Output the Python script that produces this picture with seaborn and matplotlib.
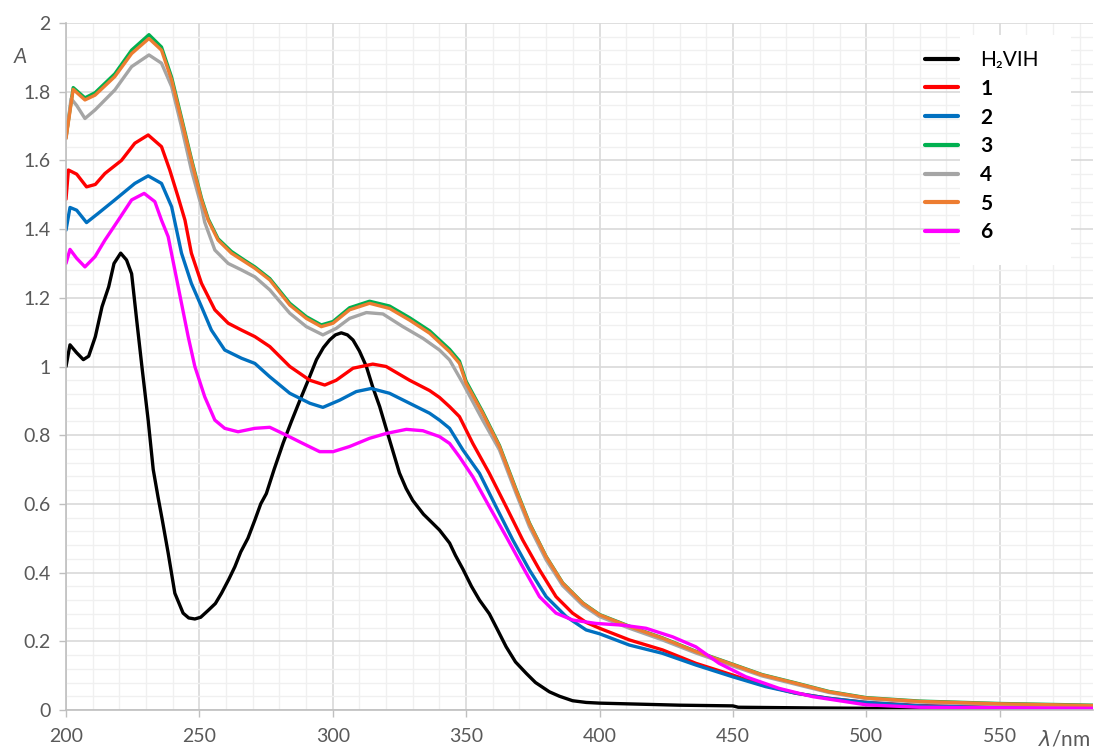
import numpy as np
import pandas as pd
import matplotlib
matplotlib.use("Agg")
import matplotlib.pyplot as plt
import seaborn as sns
from matplotlib.ticker import MultipleLocator, FuncFormatter
from matplotlib.patches import Rectangle

# ---------------- data ----------------
labels = ["H\u2082VIH", "1", "2", "3", "4", "5", "6"]
colors = ["#000000", "#FF0000", "#0070C0", "#00B050", "#A5A5A5", "#ED7D31", "#FF00FF"]

wl_h2vih = [200, 201.5, 204, 206.5, 208.5, 211, 213.5, 216, 218, 220.5, 222.7, 224.6, 226.5, 228.6,
            230.8, 232.7, 234.5, 236.1, 238.3, 240.8, 243.9, 246, 248.3, 250.5, 253.3, 256, 258.3,
            261, 263.3, 265.5, 268.2, 270.8, 273, 275.1, 278, 281.4, 284.5, 287.6, 290.8, 293.9,
            296.5, 298.8, 301, 303.2, 305.5, 307.6, 310, 312.6, 315, 317.6, 321.3, 325, 327.5, 330,
            334, 337.4, 340, 343.8, 346, 348.8, 352, 355, 358.7, 362, 365, 368.5, 372.5, 376, 381.2,
            385, 389.9, 395, 400, 415, 430, 450, 452, 480, 500, 540, 585]
a_h2vih = [1.00, 1.063, 1.04, 1.02, 1.03, 1.087, 1.174, 1.232, 1.30, 1.33, 1.31, 1.27, 1.135, 0.99,
           0.844, 0.70, 0.62, 0.553, 0.457, 0.34, 0.282, 0.268, 0.265, 0.27, 0.29, 0.31, 0.34,
           0.38, 0.417, 0.46, 0.50, 0.553, 0.60, 0.63, 0.70, 0.777, 0.84, 0.90, 0.96, 1.02,
           1.055, 1.077, 1.092, 1.098, 1.092, 1.077, 1.045, 1.00, 0.94, 0.883, 0.786, 0.69, 0.645, 0.61,
           0.57, 0.544, 0.524, 0.486, 0.45, 0.41, 0.36, 0.32, 0.28, 0.23, 0.184, 0.14, 0.107, 0.08, 0.053,
           0.04, 0.027, 0.022, 0.02, 0.017, 0.014, 0.012, 0.008, 0.006, 0.005, 0.004, 0.003]

wl_1 = [200, 200.9, 204, 207.7, 211, 214.6, 220.8, 225.8, 230.8, 235.8, 238.9, 242, 244.6, 247,
        250.8, 255.8, 260.8, 265.8, 270.8, 276.4, 283.9, 291.4, 297, 301.3, 307.6, 315, 320,
        328.8, 336.3, 340, 343.8, 347.5, 352.5, 358.7, 365, 371.2, 377.5, 383.7, 389.9, 395,
        400, 411.2, 423.6, 436.1, 449.8, 461, 473.5, 486, 500, 520, 550, 585]
a_1 = [1.487, 1.572, 1.56, 1.523, 1.53, 1.562, 1.60, 1.65, 1.674, 1.64, 1.572, 1.494, 1.426, 1.33,
       1.242, 1.165, 1.126, 1.106, 1.087, 1.058, 1.00, 0.96, 0.946, 0.96, 0.995, 1.007, 1.0,
       0.96, 0.93, 0.91, 0.883, 0.854, 0.776, 0.689, 0.592, 0.495, 0.408, 0.33, 0.282, 0.255,
       0.238, 0.204, 0.175, 0.136, 0.102, 0.073, 0.049, 0.034, 0.022, 0.013, 0.008, 0.006]

wl_2 = [200, 201.5, 204, 207.7, 212.1, 218.3, 225.8, 230.8, 235.8, 239.6, 243.3, 247, 250.8,
        254.5, 259.5, 265.8, 270.8, 276.4, 283.9, 291.4, 296.3, 302.6, 308.8, 314.4, 321.3,
        328.8, 336.3, 340, 343.8, 348.8, 355, 361.2, 367.5, 373.7, 380, 387.5, 395, 400, 411.2,
        423.6, 436.1, 449.8, 462.3, 473.5, 486, 500, 520, 550, 585]
a_2 = [1.397, 1.463, 1.455, 1.419, 1.446, 1.485, 1.533, 1.555, 1.533, 1.465, 1.33, 1.242, 1.174,
       1.106, 1.048, 1.024, 1.009, 0.97, 0.922, 0.893, 0.881, 0.902, 0.927, 0.936, 0.922,
       0.893, 0.864, 0.844, 0.82, 0.757, 0.689, 0.592, 0.495, 0.408, 0.33, 0.272, 0.233, 0.222, 0.189,
       0.165, 0.131, 0.097, 0.068, 0.049, 0.034, 0.022, 0.012, 0.007, 0.005]

wl_3 = [200, 202.7, 207.1, 210.9, 218.3, 224.6, 231.1, 235.8, 239.6, 243.3, 247, 250.8, 253.3,
        257, 262, 267, 270.8, 276.4, 283.9, 290.1, 295.7, 300.1, 306.3, 313.8, 321.3, 328.8,
        336.3, 343.8, 347.5, 350, 356.2, 362.5, 368.7, 373.7, 380, 386.2, 393.7, 400, 411.2,
        423.6, 436.1, 448.6, 461, 473.5, 486, 500, 520, 550, 585]
a_3 = [1.668, 1.812, 1.782, 1.797, 1.852, 1.921, 1.966, 1.93, 1.842, 1.724, 1.605, 1.49, 1.43,
       1.372, 1.335, 1.309, 1.29, 1.256, 1.184, 1.145, 1.121, 1.131, 1.171, 1.19, 1.176, 1.142,
       1.104, 1.05, 1.016, 0.957, 0.868, 0.77, 0.643, 0.545, 0.447, 0.37, 0.312, 0.278, 0.244,
       0.21, 0.171, 0.137, 0.103, 0.079, 0.054, 0.036, 0.026, 0.019, 0.014]

wl_4 = [200, 201.9, 204, 207.1, 210.9, 218.3, 224.6, 231.1, 235.8, 239.6, 243.3, 247, 250.8,
        252, 255.8, 260.8, 265.8, 270.8, 276.4, 283.9, 290.1, 296.3, 301.3, 306.3, 312.6, 318.8,
        326.3, 333.8, 340, 343.8, 348.8, 356.2, 362.5, 368.7, 373.7, 380, 386.2, 393.7, 400,
        411.2, 423.6, 436.1, 448.6, 461, 473.5, 486, 500, 520, 550, 585]
a_4 = [1.664, 1.78, 1.76, 1.722, 1.747, 1.805, 1.873, 1.907, 1.883, 1.815, 1.698, 1.572, 1.465,
       1.42, 1.339, 1.30, 1.281, 1.261, 1.223, 1.155, 1.116, 1.092, 1.111, 1.14, 1.157, 1.153,
       1.116, 1.082, 1.048, 1.019, 0.951, 0.844, 0.757, 0.631, 0.534, 0.437, 0.362, 0.305, 0.272,
       0.238, 0.204, 0.166, 0.132, 0.099, 0.075, 0.051, 0.033, 0.023, 0.016, 0.011]

wl_5 = [200, 202.7, 207.1, 210.9, 218.3, 224.6, 231.1, 235.8, 239.6, 243.3, 247, 250.8, 253.3,
        257, 262, 267, 270.8, 276.4, 283.9, 290.1, 295.7, 300.1, 306.3, 313.8, 321.3, 328.8,
        336.3, 343.8, 347.5, 350, 356.2, 362.5, 368.7, 373.7, 380, 386.2, 393.7, 400, 411.2,
        423.6, 436.1, 448.6, 461, 473.5, 486, 500, 520, 550, 585]
a_5 = [1.664, 1.807, 1.776, 1.79, 1.844, 1.911, 1.955, 1.921, 1.834, 1.718, 1.60, 1.485, 1.426,
       1.368, 1.33, 1.305, 1.286, 1.252, 1.179, 1.14, 1.116, 1.126, 1.165, 1.184, 1.169, 1.135,
       1.097, 1.043, 1.009, 0.951, 0.864, 0.767, 0.64, 0.543, 0.446, 0.369, 0.311, 0.277, 0.243,
       0.209, 0.17, 0.136, 0.102, 0.078, 0.053, 0.035, 0.025, 0.018, 0.013]

wl_6 = [200, 201.5, 204, 207.1, 210.9, 214.6, 219.6, 224.6, 229.3, 233.3, 235.8, 238.3, 240.8,
        243.3, 245.8, 248.3, 252, 255.8, 259.5, 264.5, 270.8, 276.4, 282.6, 288.8, 295.1, 300.1,
        306.3, 313.8, 320, 327.6, 333.8, 340, 343.8, 347.5, 352.5, 358.7, 365, 371.2, 377.5,
        383.7, 389.9, 398.7, 408.7, 417.4, 427.4, 436.1, 444.8, 454.8, 467.3, 479.8, 500, 520, 585]
a_6 = [1.30, 1.341, 1.315, 1.29, 1.32, 1.368, 1.426, 1.485, 1.504, 1.48, 1.426, 1.378, 1.281,
       1.184, 1.087, 1.0, 0.912, 0.844, 0.82, 0.81, 0.82, 0.823, 0.80, 0.776, 0.752, 0.752,
       0.767, 0.791, 0.805, 0.817, 0.813, 0.796, 0.776, 0.737, 0.679, 0.592, 0.505, 0.417, 0.33,
       0.282, 0.262, 0.252, 0.247, 0.238, 0.213, 0.184, 0.136, 0.097, 0.063, 0.039, 0.015, 0.008, 0.005]

wls = [wl_h2vih, wl_1, wl_2, wl_3, wl_4, wl_5, wl_6]
absb = [a_h2vih, a_1, a_2, a_3, a_4, a_5, a_6]

frames = []
for lab, w, a in zip(labels, wls, absb):
    frames.append(pd.DataFrame({"wl": w, "A": a, "series": lab}))
df = pd.concat(frames, ignore_index=True)

# ---------------- plotting ----------------
sns.set_theme(style="white")
plt.rcParams["font.family"] = ["Lato", "DejaVu Sans"]

fig = plt.figure(figsize=(10.95, 7.53), dpi=100)
ax = fig.add_axes([66 / 1095, 1 - 710 / 753, (1093 - 66) / 1095, (710 - 23) / 753])

sns.lineplot(data=df, x="wl", y="A", hue="series", hue_order=labels,
             palette=dict(zip(labels, colors)), sort=False, estimator=None,
             linewidth=2.4, ax=ax, legend=True)
for ln in ax.get_lines():
    ln.set_solid_joinstyle("round")
    ln.set_solid_capstyle("round")

ax.set_xlim(200, 585)
ax.set_ylim(0, 2)
ax.xaxis.set_major_locator(MultipleLocator(50))
ax.xaxis.set_minor_locator(MultipleLocator(10))
ax.yaxis.set_major_locator(MultipleLocator(0.2))
ax.yaxis.set_minor_locator(MultipleLocator(0.04))
ax.yaxis.set_major_formatter(FuncFormatter(lambda v, p: f"{v:g}"))
ax.xaxis.set_major_formatter(FuncFormatter(lambda v, p: f"{v:g}"))
ax.set_axisbelow(True)
ax.grid(which="major", color="#D9D9D9", linewidth=1.2)
ax.grid(which="minor", color="#F0F0F0", linewidth=1.0)
for s in ["top", "right"]:
    ax.spines[s].set_visible(False)
for s in ["left", "bottom"]:
    ax.spines[s].set_color("#BFBFBF")
    ax.spines[s].set_linewidth(1.2)
ax.tick_params(axis="both", which="major", direction="out", length=5, width=1,
               color="#BFBFBF", labelsize=14, labelcolor="#595959",
               bottom=True, left=True)
ax.tick_params(axis="x", pad=8)
ax.tick_params(axis="y", pad=6)
ax.set_xlabel("")
ax.set_ylabel("")

# axis labels as in reference
fig.text(20 / 1095, 1 - 57 / 753, "A", fontsize=15, fontstyle="italic",
         color="#595959", ha="center", va="center")
fig.text(1 - 5 / 1095, 1 - 740 / 753, r"$\mathit{\lambda}$/nm", fontsize=15,
         color="#595959", ha="right", va="center")

# legend with white background box (behind legend text, above grid)
ax.add_patch(Rectangle((960 / 1095, 1 - 265 / 753), (1071 - 960) / 1095,
                       (265 - 35) / 753, transform=fig.transFigure,
                       facecolor="white", edgecolor="none", zorder=1, clip_on=False))
handles, labs = ax.get_legend_handles_labels()
leg = ax.legend(handles, labs, loc="upper left",
                bbox_to_anchor=(925 / 1095, 1 - 50 / 753),
                bbox_transform=fig.transFigure, frameon=False,
                fontsize=15, handlelength=1.6, handletextpad=1.05,
                labelspacing=0.42, borderpad=0, borderaxespad=0)
leg.set_zorder(10)
for line in leg.get_lines():
    line.set_linewidth(3)
for t in leg.get_texts():
    if t.get_text() != labels[0]:
        t.set_fontweight("bold")
    t.set_color("black")

fig.savefig("out.png", dpi=100)
